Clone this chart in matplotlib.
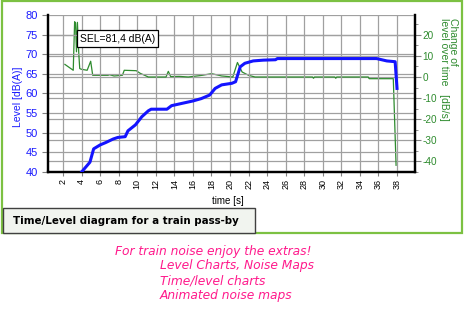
import matplotlib
matplotlib.use("Agg")
import matplotlib.pyplot as plt
from matplotlib.patches import Rectangle
from matplotlib.ticker import MultipleLocator

plt.rcParams["axes.unicode_minus"] = False

# level curve [dB(A)]
t_lvl = [4.0, 4.9, 5.3, 6.0, 6.6, 7.4, 7.9, 8.7, 9.0, 9.8, 10.5, 11.2, 11.5,
         13.2, 13.7, 16.0, 16.9, 17.8, 18.4, 19.1, 20.2, 20.6, 21.1, 21.6,
         22.5, 23.6, 24.9, 25.1, 35.8, 36.9, 37.8, 38.0]
lvl = [40.0, 42.5, 45.9, 46.9, 47.5, 48.4, 48.8, 49.0, 50.5, 52.0, 54.1, 55.6, 56.0,
       56.0, 56.9, 58.1, 58.7, 59.6, 61.3, 62.2, 62.6, 63.0, 66.8, 67.7,
       68.3, 68.5, 68.6, 68.9, 68.9, 68.3, 68.1, 61.3]

# change of level over time [dB/s]
t_chg = [2.2, 3.1, 3.25, 3.35, 3.45, 3.55, 3.7, 3.8, 3.97, 4.6, 4.98, 5.2,
         6.85, 7.0, 7.5, 8.4, 8.6, 9.9, 10.3, 11.2, 13.1, 13.35, 13.6, 14.5,
         15.5, 17.0, 18.0, 19.1, 20.3, 20.8, 21.3, 22.0, 22.7, 28.9, 29.0,
         29.1, 31.3, 31.4, 31.5, 34.9, 35.0, 37.6, 37.9]
chg = [6.0, 3.2, 26.3, 25.5, 12.0, 26.0, 11.0, 4.0, 3.7, 3.2, 7.5, 0.8,
       0.8, 1.1, 0.5, 0.8, 3.2, 3.0, 1.8, 0.0, 0.0, 2.7, 0.2, 0.3,
       0.0, 0.8, 1.6, 0.5, 0.0, 6.9, 2.4, 0.8, 0.0, 0.0, -0.6,
       0.0, 0.0, -0.6, 0.0, 0.0, -0.8, -0.8, -42.0]

x_ticks = list(range(2, 39, 2))
left_ticks = list(range(40, 81, 5))
right_ticks = list(range(-40, 21, 10))

W, H = 470, 314
fig = plt.figure(figsize=(W / 100, H / 100), dpi=100)
fig.patch.set_facecolor("white")

def fx(px):
    return px / W

def fy(py):
    return 1 - py / H

ax = fig.add_axes([fx(48), fy(172), fx(415) - fx(48), fy(15) - fy(172)])
ax2 = ax.twinx()

grid_c = "#a0a0a0"
ax.set_xlim(0.38, 39.94)
ax.set_ylim(40, 80)
ax2.set_ylim(-45.2, 29.5)
ax.set_xticks(x_ticks)
ax.set_yticks(left_ticks)
ax2.set_yticks(right_ticks)
ax2.yaxis.set_minor_locator(MultipleLocator(5))

ax.grid(True, color=grid_c, lw=0.9)
for y in right_ticks:
    ax2.axhline(y, color=grid_c, lw=0.9, zorder=0)

ax2.plot(t_chg, chg, color="#2e8b2e", lw=0.9, zorder=3)
ax.plot(t_lvl, lvl, color="#1414ff", lw=2.2, zorder=4)
ax.set_zorder(ax2.get_zorder() + 1)
ax.patch.set_visible(False)

for a in (ax, ax2):
    a.spines["top"].set_visible(False)
    a.spines["left"].set_linewidth(1.6)
    a.spines["bottom"].set_linewidth(1.6)
    a.spines["right"].set_linewidth(1.6)

ax.tick_params(axis="y", colors="#1a1aff", labelsize=8, length=4, width=0.8)
ax.tick_params(axis="y", color="#808080")
ax.tick_params(axis="x", labelsize=6.5, rotation=90, length=3, color="#808080", pad=2)
ax2.tick_params(axis="y", which="major", colors="#2e8b2e", labelsize=7.2, length=4,
                width=0.8, pad=1.5)
ax2.tick_params(axis="y", which="major", color="#808080")
ax2.tick_params(axis="y", which="minor", length=2, color="#808080")
for lab in ax.get_yticklabels() + ax2.get_yticklabels() + ax.get_xticklabels():
    lab.set_family("Liberation Sans")

fig.text(fx(18), fy(97), "Level [dB(A)]", color="#1a1aff", rotation=90,
         ha="center", va="center", fontsize=7.5, family="Liberation Sans")
fig.text(fx(448.5), fy(18), "Change of\nlevel over time   [dB/s]", color="#2e8b2e",
         rotation=270, ha="center", va="top", fontsize=7.5, linespacing=0.95,
         multialignment="left", family="Liberation Sans")
fig.text(fx(212), fy(201), "time [s]", color="black", ha="left", va="center",
         fontsize=7, family="Liberation Sans")

ax.text(0.087, 0.85, "SEL=81,4 dB(A)", transform=ax.transAxes, fontsize=7.5,
        family="Liberation Sans", va="center", ha="left", zorder=6,
        bbox=dict(boxstyle="square,pad=0.3", fc="white", ec="black", lw=0.9))

# outer green frame and caption box
fig.patches.append(Rectangle((fx(1.5), fy(233)), fx(462) - fx(1.5), fy(0.5) - fy(233),
                             transform=fig.transFigure, fill=False, ec="#7cc142", lw=1.6))
fig.patches.append(Rectangle((fx(2.5), fy(233)), fx(255) - fx(2.5), fy(207.5) - fy(233),
                             transform=fig.transFigure, fc="#f1f4ef", ec="#404040", lw=1.0))
fig.text(fx(13), fy(220.5), "Time/Level diagram for a train pass-by", fontsize=7.4,
         weight="bold", va="center", ha="left")

pink = "#ff1a8c"
fig.text(fx(115), fy(251), "For train noise enjoy the extras!", color=pink,
         style="italic", fontsize=8.8, va="center")
fig.text(fx(160), fy(266), "Level Charts, Noise Maps", color=pink,
         style="italic", fontsize=8.8, va="center")
fig.text(fx(160), fy(281), "Time/level charts", color=pink,
         style="italic", fontsize=8.8, va="center")
fig.text(fx(160), fy(296), "Animated noise maps", color=pink,
         style="italic", fontsize=8.8, va="center")

fig.savefig("out.png", dpi=100)
